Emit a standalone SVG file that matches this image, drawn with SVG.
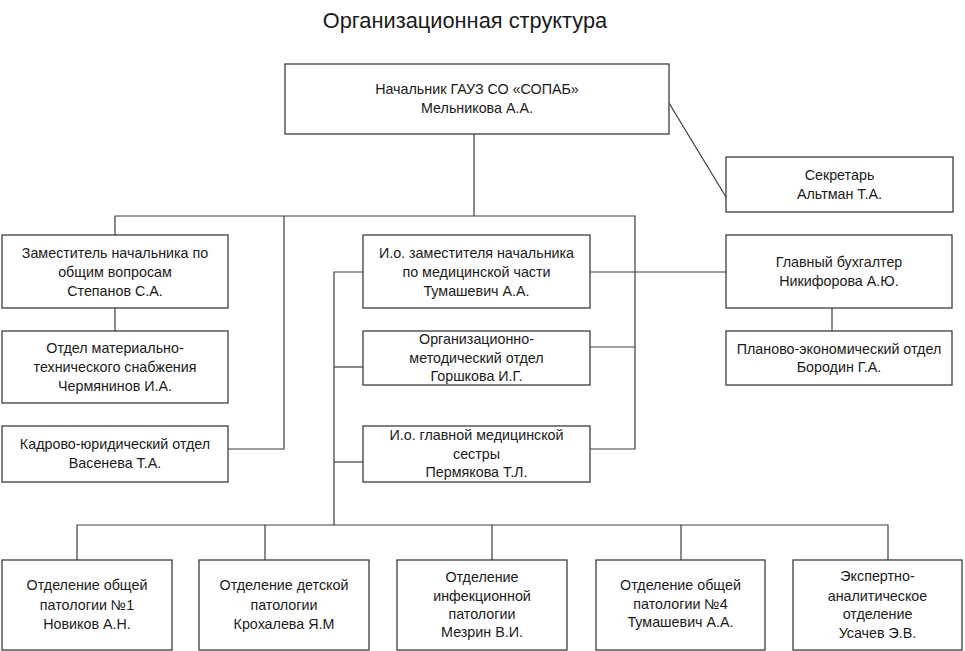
<svg xmlns="http://www.w3.org/2000/svg" width="965" height="651" viewBox="0 0 965 651">
<style>
.box{fill:#ffffff;stroke:#3c3c3c;stroke-width:1.3}
.t{font-family:"Liberation Sans",Arial,sans-serif;font-size:14.3px;fill:#1a1a1a;text-anchor:middle}
.title{font-family:"Liberation Sans",Arial,sans-serif;font-size:21.8px;fill:#1a1a1a;text-anchor:middle}
.c{fill:none;stroke:#3c3c3c;stroke-width:1.2}
</style>
<rect width="965" height="651" fill="#ffffff"/>
<text class="title" x="465" y="28">Организационная структура</text>
<g id="connectors">
<line class="c" x1="669" y1="103" x2="726" y2="197"/>
<polyline class="c" points="474,134 474,216"/>
<polyline class="c" points="115,235 115,216 635,216 635,449 590,449"/>
<polyline class="c" points="284,216 284,449 228,449"/>
<line class="c" x1="590" y1="347" x2="635" y2="347"/>
<line class="c" x1="590" y1="272" x2="726" y2="272"/>
<line class="c" x1="115" y1="308" x2="115" y2="331"/>
<line class="c" x1="832" y1="308" x2="832" y2="331"/>
<polyline class="c" points="363,272 334,272 334,525"/>
<line class="c" x1="334" y1="367" x2="363" y2="367"/>
<line class="c" x1="334" y1="462" x2="363" y2="462"/>
<polyline class="c" points="77,560 77,525 888,525 888,560"/>
<line class="c" x1="265" y1="525" x2="265" y2="560"/>
<line class="c" x1="492" y1="525" x2="492" y2="560"/>
<line class="c" x1="681" y1="525" x2="681" y2="560"/>
</g>
<g id="head">
<rect class="box" x="285" y="64" width="384" height="70"/>
<text class="t" x="477" y="94">Начальник ГАУЗ СО «СОПАБ»</text>
<text class="t" x="477" y="113">Мельникова А.А.</text>
</g>
<g id="secretary">
<rect class="box" x="726" y="157" width="227" height="55"/>
<text class="t" x="839.5" y="180">Секретарь</text>
<text class="t" x="839.5" y="199">Альтман Т.А.</text>
</g>
<g id="deputy-general">
<rect class="box" x="2" y="235" width="226" height="73"/>
<text class="t" x="115" y="258">Заместитель начальника по</text>
<text class="t" x="115" y="277">общим вопросам</text>
<text class="t" x="115" y="296">Степанов С.А.</text>
</g>
<g id="supply">
<rect class="box" x="2" y="331" width="226" height="72"/>
<text class="t" x="115" y="353">Отдел материально-</text>
<text class="t" x="115" y="372">технического снабжения</text>
<text class="t" x="115" y="391">Чермянинов И.А.</text>
</g>
<g id="hr-legal">
<rect class="box" x="2" y="426" width="226" height="56"/>
<text class="t" x="115" y="449">Кадрово-юридический отдел</text>
<text class="t" x="115" y="468">Васенева Т.А.</text>
</g>
<g id="deputy-medical">
<rect class="box" x="363" y="235" width="227" height="73"/>
<text class="t" x="476.5" y="258">И.о. заместителя начальника</text>
<text class="t" x="476.5" y="277">по медицинской части</text>
<text class="t" x="476.5" y="296">Тумашевич А.А.</text>
</g>
<g id="org-method">
<rect class="box" x="363" y="331" width="227" height="54"/>
<text class="t" x="476.5" y="344">Организационно-</text>
<text class="t" x="476.5" y="363">методический отдел</text>
<text class="t" x="476.5" y="381">Горшкова И.Г.</text>
</g>
<g id="head-nurse">
<rect class="box" x="363" y="426" width="227" height="56"/>
<text class="t" x="476.5" y="440">И.о. главной медицинской</text>
<text class="t" x="476.5" y="459">сестры</text>
<text class="t" x="476.5" y="477">Пермякова Т.Л.</text>
</g>
<g id="accountant">
<rect class="box" x="726" y="235" width="226" height="73"/>
<text class="t" x="839" y="267">Главный бухгалтер</text>
<text class="t" x="839" y="286">Никифорова А.Ю.</text>
</g>
<g id="planning">
<rect class="box" x="726" y="331" width="226" height="54"/>
<text class="t" x="839" y="354">Планово-экономический отдел</text>
<text class="t" x="839" y="372">Бородин Г.А.</text>
</g>
<g id="dept1">
<rect class="box" x="2" y="560" width="170" height="90"/>
<text class="t" x="87" y="590">Отделение общей</text>
<text class="t" x="87" y="610">патологии №1</text>
<text class="t" x="87" y="629">Новиков А.Н.</text>
</g>
<g id="dept2">
<rect class="box" x="199" y="560" width="170" height="90"/>
<text class="t" x="284" y="590">Отделение детской</text>
<text class="t" x="284" y="610">патологии</text>
<text class="t" x="284" y="629">Крохалева Я.М</text>
</g>
<g id="dept3">
<rect class="box" x="397" y="560" width="170" height="90"/>
<text class="t" x="482" y="582">Отделение</text>
<text class="t" x="482" y="601">инфекционной</text>
<text class="t" x="482" y="619">патологии</text>
<text class="t" x="482" y="637">Мезрин В.И.</text>
</g>
<g id="dept4">
<rect class="box" x="596" y="560" width="169" height="90"/>
<text class="t" x="680.5" y="590">Отделение общей</text>
<text class="t" x="680.5" y="609">патологии №4</text>
<text class="t" x="680.5" y="627">Тумашевич А.А.</text>
</g>
<g id="dept5">
<rect class="box" x="793" y="560" width="169" height="90"/>
<text class="t" x="877.5" y="581">Экспертно-</text>
<text class="t" x="877.5" y="601">аналитическое</text>
<text class="t" x="877.5" y="619">отделение</text>
<text class="t" x="877.5" y="638">Усачев Э.В.</text>
</g>
</svg>
